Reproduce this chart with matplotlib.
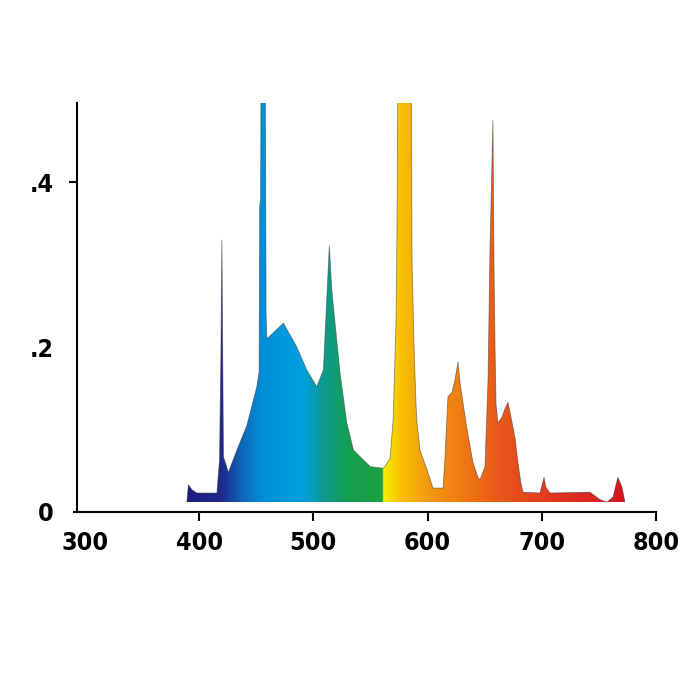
import numpy as np
import matplotlib
matplotlib.use('Agg')
import matplotlib.pyplot as plt
from matplotlib import font_manager
from matplotlib.colors import LinearSegmentedColormap
from matplotlib.patches import Polygon

# spectral power distribution (wavelength in nm, relative power)
wavelength = [389.2, 390.6, 393.6, 398.0, 415.5, 417.8, 419.0, 419.9, 420.7, 421.3,
              425.6, 433.0, 441.8, 450.5, 452.5, 453.0, 453.8, 454.3, 457.8, 458.6,
              459.3, 473.8, 485.5, 494.3, 503.0, 508.8, 511.8, 514.0, 516.1, 519.0,
              523.4, 529.3, 535.1, 542.4, 549.7, 561.3, 564.5, 567.2, 569.8, 572.4,
              573.3, 574.2, 585.6, 586.4, 588.2, 589.9, 590.8, 593.4, 599.6, 604.8,
              613.6, 615.3, 617.9, 621.4, 624.0, 626.7, 628.5, 634.6, 639.8, 644.2,
              646.0, 650.3, 653.0, 654.7, 657.3, 658.2, 659.1, 660.0, 661.7, 665.2,
              667.8, 670.5, 673.1, 676.6, 679.2, 681.8, 683.6, 698.5, 702.0, 703.7,
              707.2, 742.2, 751.0, 757.1, 762.4, 766.7, 770.3, 772.9]
power = [0.012, 0.033, 0.027, 0.023, 0.023, 0.063, 0.188, 0.330, 0.180, 0.067,
         0.048, 0.075, 0.105, 0.152, 0.170, 0.370, 0.380, 0.600, 0.600, 0.240,
         0.210, 0.229, 0.200, 0.172, 0.152, 0.172, 0.260, 0.323, 0.270, 0.229,
         0.168, 0.108, 0.075, 0.065, 0.055, 0.053, 0.059, 0.065, 0.110, 0.230,
         0.350, 0.600, 0.600, 0.305, 0.200, 0.130, 0.108, 0.075, 0.051, 0.029,
         0.029, 0.067, 0.140, 0.145, 0.160, 0.182, 0.156, 0.100, 0.060, 0.042,
         0.039, 0.055, 0.160, 0.320, 0.475, 0.300, 0.200, 0.130, 0.108, 0.115,
         0.125, 0.133, 0.115, 0.090, 0.060, 0.035, 0.024, 0.023, 0.042, 0.030,
         0.023, 0.024, 0.015, 0.012, 0.018, 0.042, 0.030, 0.012]

x_ticks = [300, 400, 500, 600, 700, 800]
y_ticks = [0, 0.2, 0.4]
y_labels = ['0', '.2', '.4']

floor = 0.012  # the coloured area sits a little above the axis line

# hue along the wavelength
stops = [(385, '#1c1a80'), (420, '#202a8c'), (435, '#1060b4'), (455, '#0090d8'),
         (490, '#00a0e0'), (510, '#0e9a8c'), (530, '#14a050'), (560, '#1ca040'),
         (561, '#f4f000'), (575, '#f8c400'), (600, '#f29a10'), (630, '#f07a12'),
         (660, '#e85a18'), (710, '#e23620'), (780, '#d41020')]
lo, hi = stops[0][0], stops[-1][0]
cmap = LinearSegmentedColormap.from_list(
    'spec', [((w - lo) / (hi - lo), c) for w, c in stops], N=1024)

# look for a condensed bold face, else plain bold
condensed = [f for f in font_manager.fontManager.ttflist
             if 'ondensed' in f.fname and 'Bold' in f.fname and 'Oblique' not in f.fname
             and 'Italic' not in f.fname]
if condensed:
    tick_font = font_manager.FontProperties(fname=condensed[0].fname, size=18)
else:
    tick_font = font_manager.FontProperties(family='Liberation Sans', weight='bold', size=16)

fig = plt.figure(figsize=(7, 7), dpi=100)
ax = fig.add_axes([0.11, 0.2686, 0.827, 0.5843])

wl = np.array(wavelength)
pw = np.array(power)
verts = np.column_stack([np.r_[wl[0], wl, wl[-1]], np.r_[floor, pw, floor]])
shape = Polygon(verts, closed=True, facecolor='none', edgecolor='none')
ax.add_patch(shape)

grad = np.linspace(lo, hi, 800)[None, :]
im = ax.imshow(grad, extent=[lo, hi, floor, 0.6], aspect='auto', cmap=cmap,
               vmin=lo, vmax=hi, origin='lower', interpolation='bilinear')
im.set_clip_path(shape)
ax.plot(wl, pw, color='#3a3a3a', lw=0.6, alpha=0.55)

ax.set_xlim(293, 800)
ax.set_ylim(0, 0.496)

for s in ['top', 'right']:
    ax.spines[s].set_visible(False)
for s in ['left', 'bottom']:
    ax.spines[s].set_linewidth(1.5)

ax.set_xticks(x_ticks)
ax.set_yticks(y_ticks)
ax.set_yticklabels(y_labels)
ax.tick_params(axis='x', direction='out', length=6.5, width=1.5, pad=7)
ax.tick_params(axis='y', direction='out', length=6, width=1.5, pad=11)
for lab in ax.get_xticklabels() + ax.get_yticklabels():
    lab.set_fontproperties(tick_font)
ax.xaxis.get_major_ticks()[0].tick1line.set_visible(False)
ax.yaxis.get_major_ticks()[1].tick1line.set_visible(False)
ax.yaxis.get_major_ticks()[0].tick1line.set_markersize(3)

fig.savefig('out.png', dpi=100, facecolor='white')
